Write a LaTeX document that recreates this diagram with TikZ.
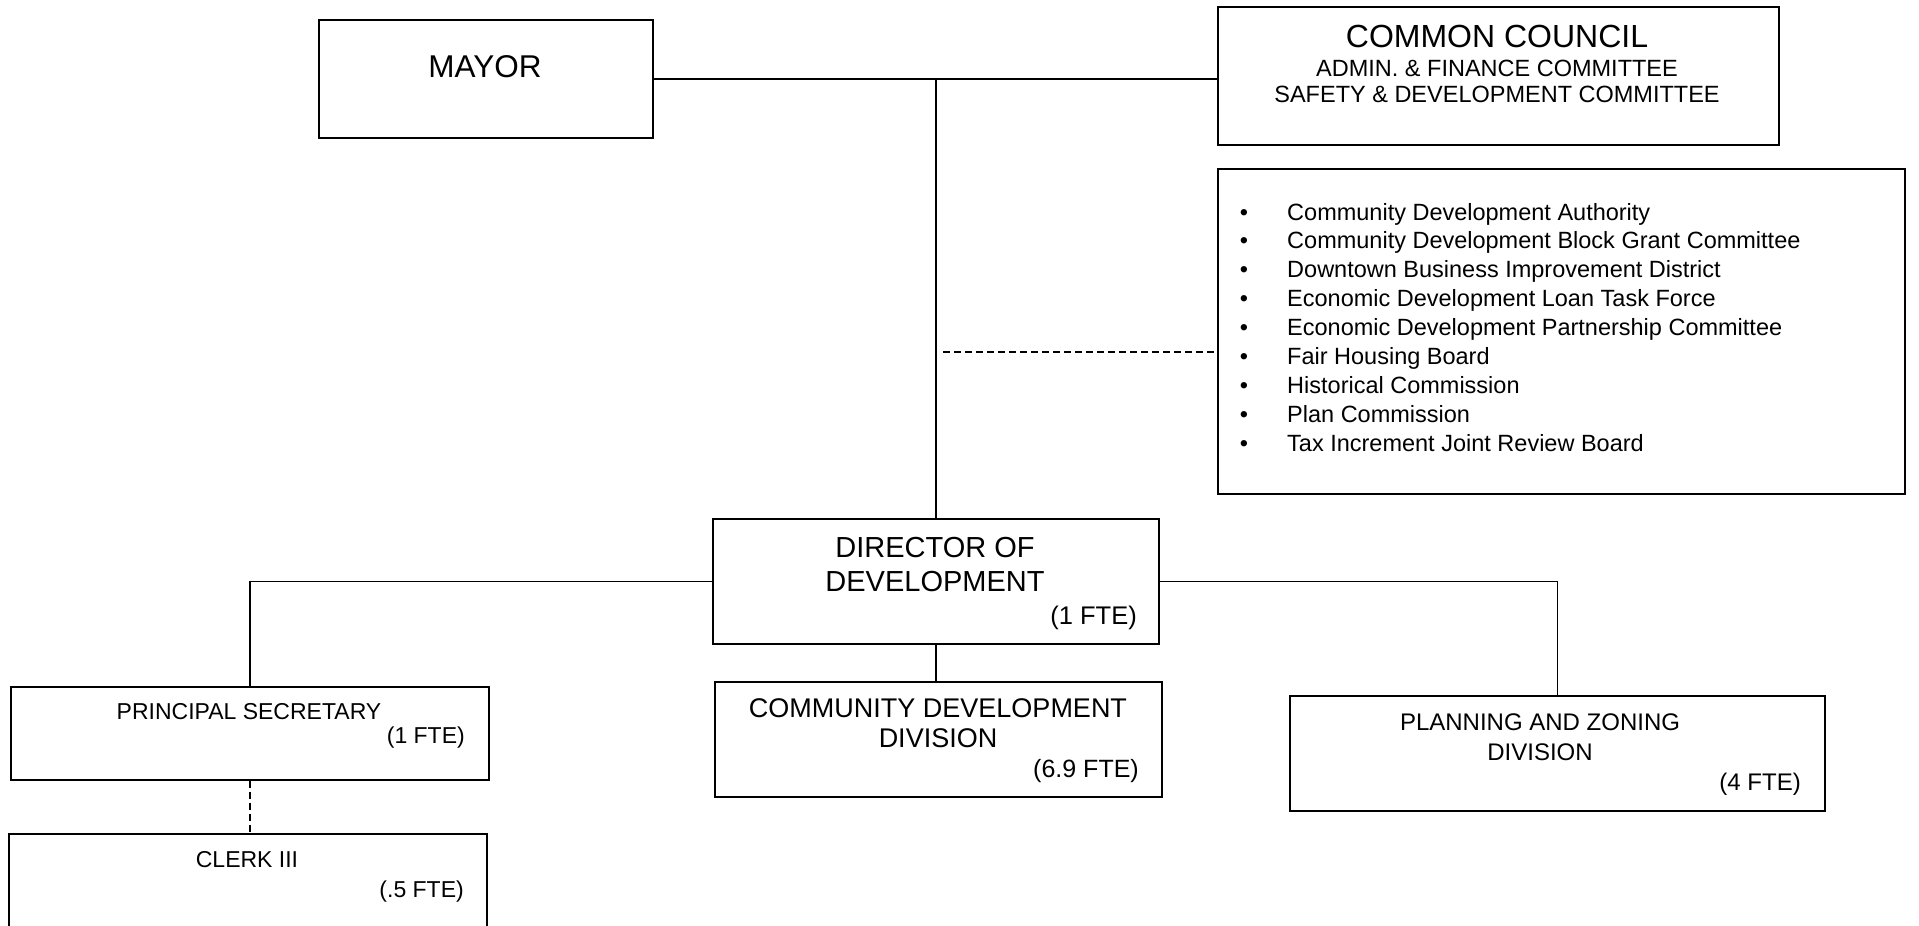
\documentclass[tikz,border=0pt]{standalone}
\usepackage{fontspec}
\setmainfont{Liberation Sans}
\usetikzlibrary{positioning,calc}
\newcommand{\fsz}[1]{\fontsize{#1}{#1}\selectfont}

\begin{document}
\begin{tikzpicture}[x=1pt,y=-1pt,
  box/.style={draw,line width=1.5pt,inner sep=0pt,anchor=north west},
  txt/.style={inner sep=0pt,anchor=base},
  rtxt/.style={inner sep=0pt,anchor=base east},
  link/.style={line width=1.5pt},
  dashlink/.style={line width=1.5pt,dash pattern=on 7pt off 4pt}]
  \useasboundingbox (0,0) rectangle (1919,926);
  \clip (0,0) rectangle (1919,926);
% boxes
  \node[box,minimum width=334,minimum height=118] (mayor) at (318,19) {};
  \node[box,minimum width=561,minimum height=138] (council) at (1217,6) {};
  \node[box,minimum width=687,minimum height=325] (boards) at (1217,168) {};
  \node[box,minimum width=446,minimum height=125] (director) at (712,518) {};
  \node[box,minimum width=478,minimum height=93] (secretary) at (10,686) {};
  \node[box,minimum width=478,minimum height=120] (clerk) at (8,833) {};
  \node[box,minimum width=447,minimum height=115] (community) at (714,681) {};
  \node[box,minimum width=535,minimum height=115] (planning) at (1289,695) {};
% texts
  \node[txt] (mayortxt) at (485,77) {\fsz{31.5}MAYOR};
  \node[txt] (counciltxt) at (1497,47) {\fsz{32}COMMON COUNCIL};
  \node[txt] (admintxt) at (1497,76) {\fsz{23.5}ADMIN. \& FINANCE COMMITTEE};
  \node[txt] (safetytxt) at (1497,102) {\fsz{23.5}SAFETY \& DEVELOPMENT COMMITTEE};
  \foreach \item [count=\i] in {Community Development Authority,
      Community Development Block Grant Committee,
      Downtown Business Improvement District,
      Economic Development Loan Task Force,
      Economic Development Partnership Committee,
      Fair Housing Board,
      Historical Commission,
      Plan Commission,
      Tax Increment Joint Review Board} {
    \node[txt] (bul\i) at (1244,{220+(\i-1)*28.9}) {\fsz{23.5}\textbullet};
    \node[txt,anchor=base west] (board\i) at (1287,{220+(\i-1)*28.9}) {\fsz{23.5}\item};
  }
  \node[txt] (dirtxt) at (935,557) {\fsz{29}DIRECTOR OF};
  \node[txt] (devtxt) at (935,591) {\fsz{29}DEVELOPMENT};
  \node[rtxt] (dirfte) at (1137,624) {\fsz{25.5}(1 FTE)};
  \node[txt] (sectxt) at (249,719) {\fsz{23}PRINCIPAL SECRETARY};
  \node[rtxt] (secfte) at (465,743) {\fsz{23}(1 FTE)};
  \node[txt] (clerktxt) at (247,867) {\fsz{23}CLERK III};
  \node[rtxt] (clerkfte) at (464,897) {\fsz{23}(.5 FTE)};
  \node[txt] (comtxt) at (938,717) {\fsz{27}COMMUNITY DEVELOPMENT};
  \node[txt] (comdiv) at (938,747) {\fsz{27}DIVISION};
  \node[rtxt] (comfte) at (1139,777) {\fsz{25}(6.9 FTE)};
  \node[txt] (plantxt) at (1540,730) {\fsz{24}PLANNING AND ZONING};
  \node[txt] (plandiv) at (1540,760) {\fsz{24}DIVISION};
  \node[rtxt] (planfte) at (1801,790) {\fsz{24}(4 FTE)};
% connectors
  \draw[link] (mayor.east) -- (mayor.east -| council.west);
  \draw[link] (mayor.east -| director.north) -- (director.north);
  \coordinate (tap) at (943,352);
  \draw[dashlink] (tap) -- (tap -| boards.west);
  \draw[link] (director.west) -| (secretary.north);
  \draw[link] (director.east) -| (planning.north);
  \draw[link] (director.south) -- (director.south |- community.north);
  \draw[dashlink] (secretary.south) -- (secretary.south |- clerk.north);
\end{tikzpicture}
\end{document}
